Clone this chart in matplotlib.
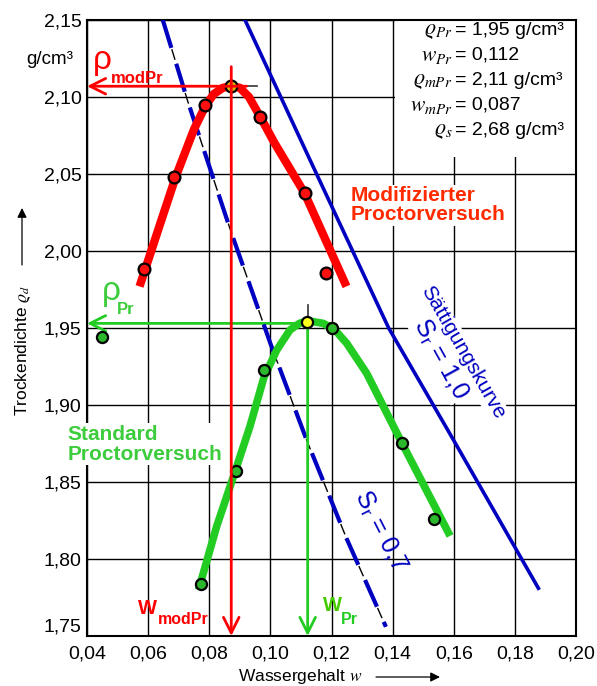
import numpy as np
import matplotlib
matplotlib.use("Agg")
import matplotlib.pyplot as plt
from matplotlib.patches import Rectangle

plt.rcParams['font.family'] = ['Liberation Sans', 'DejaVu Sans']
plt.rcParams['mathtext.fontset'] = 'stix'

# measured points (Wassergehalt w, Trockendichte rho_d)
mod_w = [0.0587, 0.0685, 0.0787, 0.0872, 0.0966, 0.1112, 0.1182]
mod_rho = [1.988, 2.048, 2.095, 2.107, 2.087, 2.0375, 1.9855]
std_w = [0.045, 0.0772, 0.0888, 0.0979, 0.1119, 0.1201, 0.143, 0.1537]
std_rho = [1.944, 1.784, 1.857, 1.923, 1.954, 1.950, 1.8755, 1.826]

# hand drawn Proctor curves
mod_curve_w = [0.0572, 0.0630, 0.0690, 0.0750, 0.0787, 0.0815, 0.0845, 0.0872,
               0.0900, 0.0930, 0.0970, 0.1014, 0.1112, 0.1249]
mod_curve_rho = [1.977, 2.012, 2.048, 2.079, 2.094, 2.102, 2.106, 2.107,
                 2.106, 2.100, 2.086, 2.070, 2.0375, 1.977]
std_curve_w = [0.0765, 0.0824, 0.0879, 0.0933, 0.0979, 0.1021, 0.1064, 0.1095,
               0.1122, 0.1173, 0.1210, 0.1250, 0.1315, 0.1370, 0.1430, 0.1588]
std_curve_rho = [1.780, 1.821, 1.8535, 1.886, 1.918, 1.9357, 1.9487, 1.953,
                 1.9547, 1.953, 1.949, 1.940, 1.9206, 1.899, 1.8755, 1.815]

# saturation lines
sat10_w = [0.0917, 0.113, 0.1387, 0.160, 0.1877]
sat10_rho = [2.150, 2.059, 1.950, 1.877, 1.781]
sat07_w = [0.0648, 0.073, 0.0872, 0.100, 0.1119, 0.125, 0.1378]
sat07_rho = [2.150, 2.097, 2.012, 1.940, 1.877, 1.813, 1.756]

# Proctor results
w_pr, rho_pr = 0.1122, 1.953
w_mpr, rho_mpr = 0.0872, 2.107

xticks = [0.04, 0.06, 0.08, 0.10, 0.12, 0.14, 0.16, 0.18, 0.20]
xtick_labels = ['0,04', '0,06', '0,08', '0,10', '0,12', '0,14', '0,16', '0,18', '0,20']
yticks = [1.75, 1.80, 1.85, 1.90, 1.95, 2.00, 2.05, 2.10, 2.15]
ytick_labels = ['1,75', '1,80', '1,85', '1,90', '1,95', '2,00', '2,05', '2,10', '2,15']

box_lines = [(r'$\varrho_{Pr}$', '= 1,95 g/cm³'),
             (r'$w_{Pr}$', '= 0,112'),
             (r'$\varrho_{mPr}$', '= 2,11 g/cm³'),
             (r'$w_{mPr}$', '= 0,087'),
             (r'$\varrho_{s}$', '= 2,68 g/cm³')]

RED = '#ff0000'
RED_TXT = '#ff2a00'
GREEN = '#22cc22'
GREEN_TXT = '#3ccc3c'
BLUE = '#0000c0'

fig = plt.figure(figsize=(5.97, 6.86), dpi=100)
ax = fig.add_axes([87 / 597, 50 / 686, 489 / 597, 616 / 686])
ax.set_xlim(0.04, 0.20)
ax.set_ylim(1.75, 2.15)
ax.set_xticks(xticks)
ax.set_xticklabels(xtick_labels)
ax.set_yticks(yticks)
ax.set_yticklabels(ytick_labels)
ax.tick_params(length=0, labelsize=14, pad=4)
ax.tick_params(axis='x', pad=7)
ax.set_axisbelow(True)
ax.grid(True, color='black', lw=1.0)
for s in ax.spines.values():
    s.set_linewidth(1.5)
# lowest y label sits a little above the corner, as in the print
ax.get_yticklabels()[0].set_va('bottom')

# white area behind the parameter list
ax.add_patch(Rectangle((0.1408, 2.061), 0.06, 0.09, facecolor='white',
                       edgecolor='none', zorder=1))
for i, (sym, val) in enumerate(box_lines):
    y = 2.1435 - i * 0.01625
    ax.text(0.1597, y, sym, ha='right', va='center', fontsize=15.5, zorder=3)
    ax.text(0.1605, y, val, ha='left', va='center', fontsize=14, zorder=3)

# saturation lines
ax.plot(sat10_w, sat10_rho, color=BLUE, lw=2.6, zorder=4)
ax.plot(sat07_w, sat07_rho, color='black', lw=1.0, dashes=(8, 3), zorder=4)
ax.plot(sat07_w, sat07_rho, color=BLUE, lw=3.0, dashes=(7, 4), zorder=4)

# Proctor curves
ax.plot(mod_curve_w, mod_curve_rho, color=RED, lw=6, solid_capstyle='butt',
        solid_joinstyle='round', zorder=4)
ax.plot(std_curve_w, std_curve_rho, color=GREEN, lw=5.5, solid_capstyle='butt',
        solid_joinstyle='round', zorder=4)

# short black lines of the original print
ax.plot([w_mpr + 0.005, w_mpr + 0.0083], [rho_mpr, rho_mpr], color='#333333', lw=1.2, zorder=4)
ax.plot([w_pr, w_pr], [rho_pr, rho_pr + 0.012], color='#333333', lw=1.2, zorder=4)

# points
pk_m = mod_rho.index(max(mod_rho))
pk_s = std_rho.index(max(std_rho))
ax.plot([w for i, w in enumerate(mod_w) if i != pk_m],
        [r for i, r in enumerate(mod_rho) if i != pk_m], 'o', ms=8.5,
        mfc='#ff1010', mec='black', mew=1.6, zorder=5)
ax.plot(mod_w[pk_m], mod_rho[pk_m], 'o', ms=8.5, mfc='#e0b800', mec='black', mew=1.6, zorder=5)
ax.plot([w for i, w in enumerate(std_w) if i != pk_s],
        [r for i, r in enumerate(std_rho) if i != pk_s], 'o', ms=8, mfc='#2cb82c',
        mec='black', mew=1.6, zorder=5)
ax.plot(std_w[pk_s], std_rho[pk_s], 'o', ms=8, mfc='#ffff20', mec='black', mew=1.6, zorder=5)

# arrows to the axes
arr = dict(arrowstyle='->', lw=2, mutation_scale=28, shrinkA=0, shrinkB=0)
ax.annotate('', xy=(0.04, rho_mpr), xytext=(w_mpr + 0.005, rho_mpr),
            arrowprops=dict(arr, color=RED), zorder=6)
ax.annotate('', xy=(w_mpr, 1.75), xytext=(w_mpr, 2.1197),
            arrowprops=dict(arr, color=RED), zorder=6)
ax.annotate('', xy=(0.04, rho_pr), xytext=(w_pr + 0.0083, rho_pr),
            arrowprops=dict(arr, color=GREEN), zorder=3)
ax.annotate('', xy=(w_pr, 1.75), xytext=(w_pr, rho_pr),
            arrowprops=dict(arr, color=GREEN), zorder=4)

# labels of the results
ax.text(0.042, 2.124, 'ρ', color=RED, fontsize=24, ha='left', va='center', zorder=6)
ax.text(0.0478, 2.112, 'modPr', color=RED, fontsize=12, fontweight='bold',
        ha='left', va='center', zorder=6)
ax.text(0.0449, 1.974, 'ρ', color=GREEN_TXT, fontsize=24, ha='left', va='center', zorder=6)
ax.text(0.0498, 1.962, 'Pr', color=GREEN_TXT, fontsize=12, fontweight='bold',
        ha='left', va='center', zorder=6)
ax.text(0.0567, 1.768, 'W', color=RED, fontsize=14.5, fontweight='bold',
        ha='left', va='center', zorder=6)
ax.text(0.0632, 1.761, 'modPr', color=RED, fontsize=11.5, fontweight='bold',
        ha='left', va='center', zorder=6)
ax.text(0.1172, 1.770, 'W', color='#44cc00', fontsize=14.5, fontweight='bold',
        ha='left', va='center', zorder=6)
ax.text(0.1230, 1.761, 'Pr', color=GREEN, fontsize=11.5, fontweight='bold',
        ha='left', va='center', zorder=6)

wbox = dict(facecolor='white', edgecolor='none', pad=1)
ax.text(0.1264, 2.0296, 'Modifizierter\nProctorversuch', color=RED_TXT, fontsize=15,
        fontweight='bold', ha='left', va='center', linespacing=1.0, bbox=wbox, zorder=3)
ax.text(0.0335, 1.8745, 'Standard\nProctorversuch', color=GREEN_TXT, fontsize=15,
        fontweight='bold', ha='left', va='center', linespacing=1.05, bbox=wbox,
        zorder=3, clip_on=False)
ax.text(0.1630, 1.9340, 'Sättigungskurve', color=BLUE, fontsize=15, rotation=-60,
        rotation_mode='anchor', ha='center', va='center', bbox=wbox, zorder=3)
ax.text(0.1558, 1.9300, r'S$_\mathregular{r}$ = 1,0', color=BLUE, fontsize=18, rotation=-61,
        rotation_mode='anchor', ha='center', va='center', bbox=wbox, zorder=3)
ax.text(0.1362, 1.8188, r'S$_\mathregular{r}$ = 0,7', color=BLUE, fontsize=18, rotation=-63,
        rotation_mode='anchor', ha='center', va='center', zorder=6)

# axis labels with arrows
fig.text(73 / 597, 1 - 60 / 686, 'g/cm³', fontsize=13.5, ha='right', va='center')
fig.text(23 / 597, 1 - 350 / 686, r'Trockendichte $\varrho_d$', fontsize=12.5,
         rotation=90, ha='center', va='center')
fig.text(300 / 597, 1 - 677 / 686, r'Wassergehalt $w$', fontsize=12.5, ha='center', va='center')
head = dict(arrowstyle='-|>', lw=0.9, color='black', mutation_scale=14, shrinkA=0, shrinkB=0)
fig.add_artist(plt.Annotation('', xy=(22, 686 - 208), xytext=(22, 686 - 265),
                              xycoords='figure pixels', arrowprops=head))
fig.add_artist(plt.Annotation('', xy=(440, 686 - 677), xytext=(376, 686 - 677),
                              xycoords='figure pixels', arrowprops=head))

fig.savefig('out.png', dpi=100, facecolor='white')
